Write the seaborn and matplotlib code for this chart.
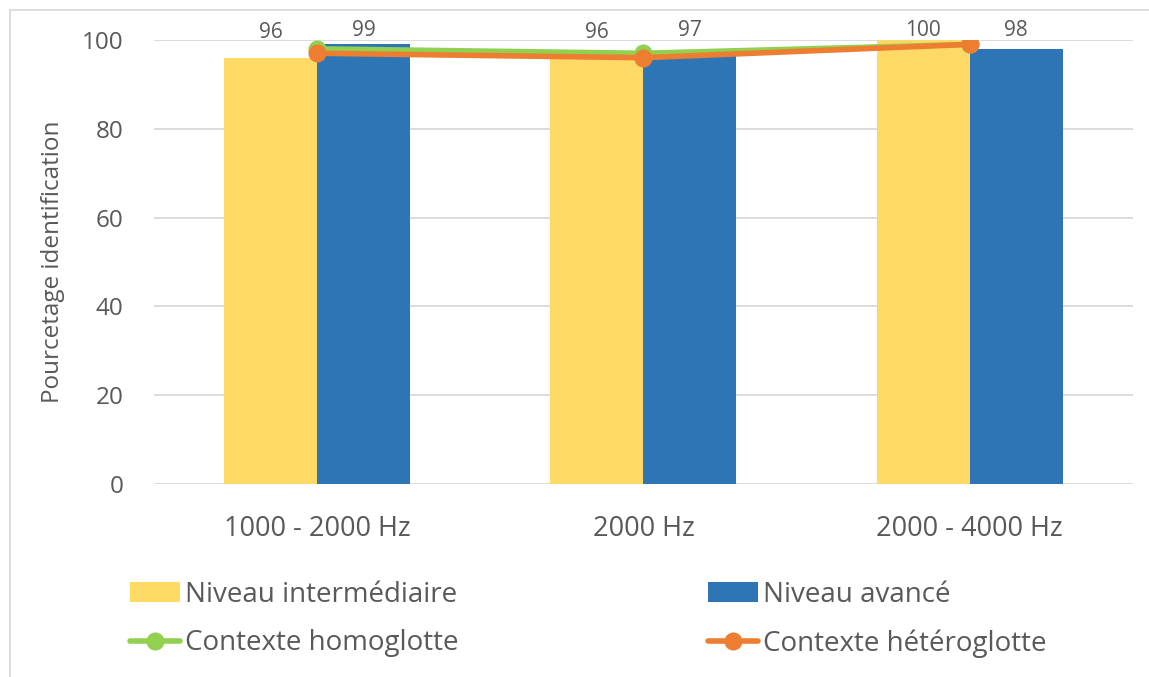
import numpy as np
import pandas as pd
import matplotlib
matplotlib.use("Agg")
import matplotlib.pyplot as plt
import seaborn as sns
from matplotlib.lines import Line2D

# Data
categories = ["1000 - 2000 Hz", "2000 Hz", "2000 - 4000 Hz"]
niveau_intermediaire = [96, 96, 100]
niveau_avance = [99, 97, 98]
contexte_homoglotte = [98, 97, 99]
contexte_heteroglotte = [97, 96, 99]
y_ticks = [0, 20, 40, 60, 80, 100]

bar_series = ["Niveau intermédiaire", "Niveau avancé"]
line_series = ["Contexte homoglotte", "Contexte hétéroglotte"]

# Style
sns.set_theme(style="white")
plt.rcParams["font.family"] = ["Open Sans", "DejaVu Sans"]
TEXT = "#595959"
GRID = "#D9D9D9"
YELLOW, BLUE = "#FFD966", "#2E75B6"
GREEN, ORANGE = "#92D050", "#ED7D31"

bars = pd.DataFrame({
    "categorie": categories * 2,
    "niveau": [bar_series[0]] * len(categories) + [bar_series[1]] * len(categories),
    "valeur": niveau_intermediaire + niveau_avance,
})

fig = plt.figure(figsize=(11.49, 6.77), dpi=100)
ax = fig.add_axes([0.134, 0.285, 0.852, 0.656])

sns.barplot(data=bars, x="categorie", y="valeur", hue="niveau",
            order=categories, hue_order=bar_series,
            palette=[YELLOW, BLUE], width=0.57, saturation=1,
            errorbar=None, linewidth=0, ax=ax, zorder=2)

xpos = np.arange(len(categories))
sns.lineplot(x=xpos, y=contexte_homoglotte, color=GREEN, linewidth=4,
             marker="o", markersize=13, markeredgewidth=0,
             label=line_series[0], ax=ax, zorder=4)
sns.lineplot(x=xpos, y=contexte_heteroglotte, color=ORANGE, linewidth=4,
             marker="o", markersize=13, markeredgewidth=0,
             label=line_series[1], ax=ax, zorder=5)

# Value labels above the bars (kept just above the top of the plot area)
for container in ax.containers:
    for bar, v in zip(container, container.datavalues):
        ax.text(bar.get_x() + bar.get_width() / 2, min(v + 5.6, 102.2),
                f"{v:g}", ha="center", va="center", fontsize=15,
                color=TEXT, clip_on=False, zorder=6)

# Axes
ax.set_xlim(-0.5, len(categories) - 0.5)
ax.set_ylim(0, 100)
ax.set_yticks(y_ticks)
ax.yaxis.grid(True, color=GRID, linewidth=1.3)
ax.set_axisbelow(True)
for s in ax.spines.values():
    s.set_visible(False)
ax.tick_params(axis="both", length=0, labelcolor=TEXT)
ax.tick_params(axis="x", pad=22, labelsize=19.5)
ax.tick_params(axis="y", pad=22, labelsize=17.5)
ax.set_xlabel("")
ax.set_ylabel("Pourcetage identification", fontsize=17.5, color=TEXT, labelpad=12)

# Legend below the plot
handles, labels = ax.get_legend_handles_labels()
lookup = dict(zip(labels, handles))
ax.get_legend().remove()
order = [bar_series[0], line_series[0], bar_series[1], line_series[1]]
fig.legend([lookup[k] for k in order], order, ncol=2, loc="upper left",
           bbox_to_anchor=(0.113, 0.142), frameon=False, fontsize=20,
           handlelength=1.8, handletextpad=0.2, columnspacing=8.95,
           labelspacing=0.74, borderpad=0, borderaxespad=0, labelcolor=TEXT)

# Chart frame (top and left edges)
fig.add_artist(Line2D([10 / 1149, 1], [1 - 10 / 677] * 2, transform=fig.transFigure,
                      color=GRID, linewidth=1.3))
fig.add_artist(Line2D([10 / 1149] * 2, [0, 1 - 10 / 677], transform=fig.transFigure,
                      color=GRID, linewidth=1.3))

fig.savefig("out.png", dpi=100)
